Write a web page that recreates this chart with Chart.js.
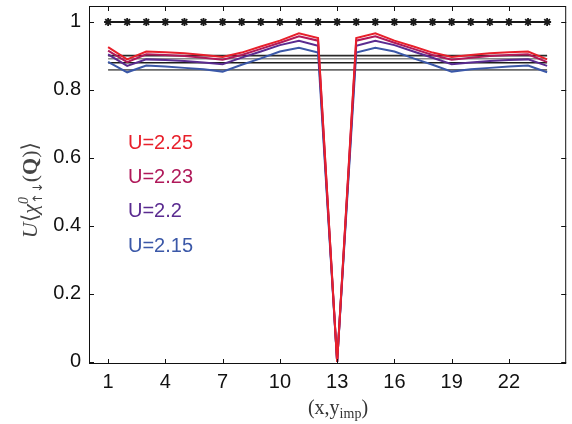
<!DOCTYPE html>
<html>
<head>
<meta charset="utf-8">
<script src="https://cdn.jsdelivr.net/npm/chart.js@4.4.0/dist/chart.umd.min.js"></script>
<style>
  html, body { margin: 0; padding: 0; background: #fff; }
  #wrap { width: 572px; height: 424px; }
</style>
</head>
<body>
<div id="wrap"><canvas id="chiChart" width="572" height="424"></canvas></div>
<script>
// positions (x, y_imp) along the cut
const sites = [1, 2, 3, 4, 5, 6, 7, 8, 9, 10, 11, 12, 13, 14, 15, 16, 17, 18, 19, 20, 21, 22, 23, 24];
const xTicks = [1, 4, 7, 10, 13, 16, 19, 22];
const yTicks = [0, 0.2, 0.4, 0.6, 0.8, 1];

const seriesLabels = ["U=2.25", "U=2.23", "U=2.2", "U=2.15"];
const seriesColors = ["#e8202b", "#b0195a", "#5a2b90", "#3b58a8"];

const u225 = [0.926, 0.890, 0.913, 0.911, 0.908, 0.903, 0.897, 0.910, 0.928, 0.945, 0.967, 0.953, 0, 0.953, 0.967, 0.945, 0.928, 0.910, 0.897, 0.903, 0.908, 0.911, 0.913, 0.890];
const u223 = [0.916, 0.882, 0.905, 0.903, 0.900, 0.895, 0.889, 0.903, 0.921, 0.939, 0.958, 0.945, 0, 0.945, 0.958, 0.939, 0.921, 0.903, 0.889, 0.895, 0.900, 0.903, 0.905, 0.882];
const u220 = [0.905, 0.871, 0.890, 0.888, 0.885, 0.881, 0.876, 0.895, 0.913, 0.932, 0.945, 0.930, 0, 0.930, 0.945, 0.932, 0.913, 0.895, 0.876, 0.881, 0.885, 0.888, 0.890, 0.871];
const u215 = [0.883, 0.852, 0.872, 0.869, 0.865, 0.861, 0.854, 0.874, 0.893, 0.913, 0.924, 0.910, 0, 0.910, 0.924, 0.913, 0.893, 0.874, 0.854, 0.861, 0.865, 0.869, 0.872, 0.852];

// clean system values (flat lines) and the line at 1 with stars
const cleanLevels = [0.901, 0.892, 0.880, 0.859];
const cleanColors = ["#2a2a2a", "#8a8a8a", "#1e1e1e", "#6a6a6a"];
const unitLine = [1, 1, 1, 1, 1, 1, 1, 1, 1, 1, 1, 1, 1, 1, 1, 1, 1, 1, 1, 1, 1, 1, 1, 1];

const toPoints = (arr) => arr.map((v, i) => ({ x: sites[i], y: v }));

const datasets = [];
[u225, u223, u220, u215].forEach((arr, i) => {
  datasets.push({
    label: seriesLabels[i],
    data: toPoints(arr),
    borderColor: seriesColors[i],
    borderWidth: 2,
    pointRadius: 0,
    tension: 0,
  });
});
cleanLevels.forEach((lv, i) => {
  datasets.push({
    label: "clean " + i,
    data: [{ x: sites[0], y: lv }, { x: sites[sites.length - 1], y: lv }],
    borderColor: cleanColors[i],
    borderWidth: 1.6,
    pointRadius: 0,
  });
});
datasets.push({
  label: "U=0 line",
  data: toPoints(unitLine),
  borderColor: "#1a1a1a",
  borderWidth: 2,
  pointStyle: "star",
  pointRadius: 4,
  pointBorderColor: "#1a1a1a",
  pointBorderWidth: 1.8,
});

// draws "parts" on one baseline, back:true = stacked over previous part
function drawRich(ctx, parts, x, y, dry) {
  let cur = x, prevStart = x, prevW = 0;
  parts.forEach(p => {
    ctx.font = p.font;
    const w = ctx.measureText(p.t).width;
    const start = p.back ? prevStart : cur;
    if (!dry) ctx.fillText(p.t, start, y + (p.dy || 0));
    cur = p.back ? prevStart + Math.max(prevW, w) : start + w;
    prevStart = start; prevW = w;
  });
  return cur - x;
}

const serif = '"Liberation Serif", "DejaVu Serif", serif';

const decoPlugin = {
  id: 'deco',
  afterDatasetsDraw(chart) {
    const ctx = chart.ctx;
    const a = chart.chartArea;
    const xs = chart.scales.x, ys = chart.scales.y;
    ctx.save();
    // box
    ctx.strokeStyle = "#111";
    ctx.lineWidth = 1;
    ctx.strokeRect(a.left + 0.5, a.top + 0.5, a.right - a.left - 1, a.bottom - a.top - 1);
    // inward ticks on all sides
    ctx.beginPath();
    xTicks.forEach(v => {
      const px = Math.round(xs.getPixelForValue(v)) + 0.5;
      ctx.moveTo(px, a.bottom); ctx.lineTo(px, a.bottom - 5);
      ctx.moveTo(px, a.top); ctx.lineTo(px, a.top + 5);
    });
    yTicks.forEach(v => {
      const py = Math.round(ys.getPixelForValue(v)) + 0.5;
      ctx.moveTo(a.left, py); ctx.lineTo(a.left + 5, py);
      ctx.moveTo(a.right, py); ctx.lineTo(a.right - 5, py);
    });
    ctx.stroke();

    // series labels inside the plot
    ctx.font = '20px "Liberation Sans", Arial, sans-serif';
    ctx.textBaseline = 'alphabetic';
    ctx.textAlign = 'left';
    seriesLabels.forEach((t, i) => {
      ctx.fillStyle = seriesColors[i];
      ctx.fillText(t, 128, 149 + i * 34.2);
    });

    // y axis title
    ctx.fillStyle = "#444";
    const big = 'italic 22px ' + serif;
    const reg = '22px ' + serif;
    const yParts = [
      { t: "U", font: big },
      { t: "\u27E8", font: reg },
      { t: "\u03C7", font: big },
      { t: "0", font: 'italic 14px ' + serif, dy: -9 },
      { t: "\u2191\u2193", font: '13px "DejaVu Sans", sans-serif', dy: 5, back: true },
      { t: "(", font: reg },
      { t: "Q", font: 'bold 22px ' + serif },
      { t: ")", font: reg },
      { t: "\u27E9", font: reg },
    ];
    const yw = drawRich(ctx, yParts, 0, 0, true);
    ctx.save();
    ctx.translate(37, 190);
    ctx.rotate(-Math.PI / 2);
    drawRich(ctx, yParts, -yw / 2, 0, false);
    ctx.restore();

    // x axis title
    ctx.fillStyle = "#333";
    const xParts = [
      { t: "(x,y", font: '20px ' + serif },
      { t: "imp", font: '14px ' + serif, dy: 4 },
      { t: ")", font: '20px ' + serif },
    ];
    const xw = drawRich(ctx, xParts, 0, 0, true);
    drawRich(ctx, xParts, 338 - xw / 2, 414, false);
    ctx.restore();
  }
};

new Chart(document.getElementById('chiChart').getContext('2d'), {
  type: 'line',
  data: { datasets: datasets },
  plugins: [decoPlugin],
  options: {
    responsive: false,
    animation: false,
    devicePixelRatio: 1,
    layout: { padding: { top: 6, right: 4, left: 0, bottom: 0 } },
    plugins: { legend: { display: false }, tooltip: { enabled: false } },
    scales: {
      x: {
        type: 'linear',
        min: 0,
        max: 25,
        afterBuildTicks: (s) => { s.ticks = xTicks.map(v => ({ value: v })); },
        afterFit: (s) => { s.height = 60; s.paddingLeft = 0; s.paddingRight = 0; },
        grid: { display: false, drawTicks: false },
        border: { display: false },
        ticks: {
          padding: 6,
          color: '#111',
          font: { family: '"Liberation Sans", Arial, sans-serif', size: 20 },
          maxRotation: 0,
        },
      },
      y: {
        min: -0.006,
        max: 1.047,
        afterBuildTicks: (s) => { s.ticks = yTicks.map(v => ({ value: v })); },
        afterFit: (s) => { s.width = 89; s.paddingTop = 0; s.paddingBottom = 0; },
        grid: { display: false, drawTicks: false },
        border: { display: false },
        ticks: {
          padding: 8,
          color: '#111',
          font: { family: '"Liberation Sans", Arial, sans-serif', size: 20 },
          callback: (v) => String(Math.round(v * 10) / 10),
        },
      },
    },
  },
});
</script>
</body>
</html>
